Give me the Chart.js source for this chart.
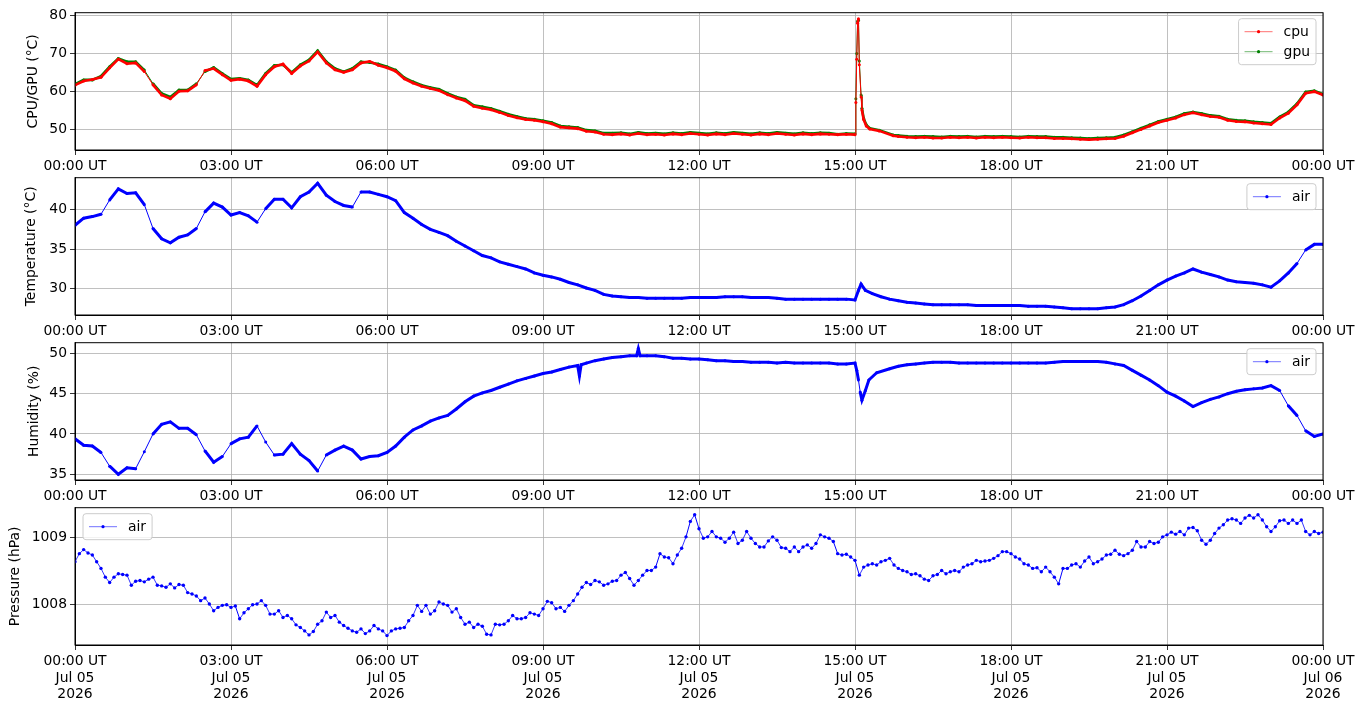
<!DOCTYPE html>
<html>
  <head>
    <title>Sensors</title>
    <script src="https://cdn.jsdelivr.net/npm/chart.js"></script>
    <style>
      body { margin: 0; background: #fff; width: 1364px; height: 710px; position: relative; overflow: hidden; }
      canvas { position: absolute; left: 0; }
    </style>
  </head>
  <body>
    <canvas id="cpuChart" width="1364" height="180" style="top:0px"></canvas>
    <canvas id="tempChart" width="1364" height="180" style="top:165px"></canvas>
    <canvas id="humChart" width="1364" height="180" style="top:330px"></canvas>
    <canvas id="presChart" width="1364" height="215" style="top:495px"></canvas>

    <script>
      // x axis: minutes since 00:00 UT, Jul 05 2026
      var xTickMinutes = [0, 180, 360, 540, 720, 900, 1080, 1260, 1440];
      var xTickLabels = ["00:00 UT", "03:00 UT", "06:00 UT", "09:00 UT", "12:00 UT", "15:00 UT", "18:00 UT", "21:00 UT", "00:00 UT"];
      var xDateLabels = ["Jul 05", "Jul 05", "Jul 05", "Jul 05", "Jul 05", "Jul 05", "Jul 05", "Jul 05", "Jul 06"];
      var xYearLabels = ["2026", "2026", "2026", "2026", "2026", "2026", "2026", "2026", "2026"];

      var cpuTicks = [50, 60, 70, 80];
      var tempTicks = [30, 35, 40];
      var humTicks = [35, 40, 45, 50];
      var presTicks = [1008, 1009];

      // CPU / GPU
      var cpuTimes = [0,10,20,30,40,50,60,70,80,90,100,110,120,130,140,150,160,170,180,190,200,210,220,230,240,250,260,270,280,290,300,310,320,330,340,350,360,370,380,390,400,410,420,430,440,450,460,470,480,490,500,510,520,530,540,550,560,570,580,590,600,610,620,630,640,650,660,670,680,690,700,710,720,730,740,750,760,770,780,790,800,810,820,830,840,850,860,870,880,890,900,
        901,902,903,904,905,907,908,910,913,917,928,944,
        950,960,970,980,990,1000,1010,1020,1030,1040,1050,1060,1070,1080,1090,1100,1110,1120,1130,1140,1150,1160,1170,1180,1190,1200,1210,1220,1230,1240,1250,1260,1270,1280,1290,1300,1310,1320,1330,1340,1350,1360,1370,1380,1390,1400,1410,1420,1430,1440];
      var cpuValues = [61.6,62.7,63.1,63.7,66.2,68.5,67.3,67.5,65.2,61.7,
        59.0,58.0,60.0,60.1,61.7,65.5,66.0,64.4,62.9,63.2,
        62.7,61.3,64.4,66.5,67.2,64.7,66.7,68.0,70.4,67.5,
        65.7,65.0,65.7,67.5,67.9,66.9,66.2,65.3,63.3,62.2,
        61.3,60.7,60.2,59.1,58.2,57.5,56.0,55.5,55.1,54.4,
        53.6,53.0,52.5,52.3,51.9,51.4,50.5,50.3,50.1,49.4,
        49.2,48.6,48.5,48.7,48.4,48.8,48.5,48.6,48.4,48.7,
        48.5,48.8,48.6,48.4,48.7,48.5,48.8,48.6,48.4,48.7,
        48.5,48.8,48.6,48.4,48.7,48.5,48.7,48.6,48.5,48.6,
        48.5,
        57.0,68.5,78.0,79.2,67.0,58.5,55.0,52.5,50.8,50.0,49.5,48.2,
        48.0,47.8,47.7,47.8,47.6,47.6,47.8,47.7,47.8,47.6,
        47.8,47.7,47.8,47.7,47.6,47.8,47.7,47.7,47.5,47.5,
        47.4,47.3,47.2,47.3,47.4,47.5,48.1,49.0,49.9,50.8,
        51.7,52.3,52.9,53.8,54.3,53.8,53.3,53.1,52.3,52.0,
        51.9,51.6,51.4,51.2,52.9,54.2,56.4,59.5,59.9,59.0];
      var gpuValues = [61.9,63.0,63.0,64.0,66.5,68.7,67.8,67.8,65.6,62.0,
        59.4,58.5,60.3,60.3,62.0,65.2,66.3,64.7,63.2,63.4,
        63.0,61.6,64.7,66.8,67.0,65.0,67.0,68.3,70.7,67.8,
        66.0,65.2,66.0,67.8,67.6,67.2,66.5,65.6,63.6,62.5,
        61.6,61.0,60.5,59.4,58.5,57.9,56.3,55.9,55.4,54.7,
        53.9,53.3,52.8,52.6,52.2,51.7,50.8,50.6,50.4,49.7,
        49.5,48.9,48.9,49.0,48.7,49.1,48.8,48.9,48.7,49.0,
        48.8,49.1,48.9,48.7,49.0,48.8,49.1,48.9,48.7,49.0,
        48.8,49.1,48.9,48.7,49.0,48.8,49.0,48.9,48.6,48.8,
        48.7,
        58.0,70.0,78.5,78.8,68.0,59.0,55.5,52.8,51.1,50.2,49.7,48.4,
        48.3,48.1,48.0,48.1,48.0,47.9,48.1,48.0,48.1,47.9,
        48.1,48.0,48.1,48.0,47.9,48.1,48.0,48.0,47.8,47.8,
        47.7,47.6,47.5,47.6,47.7,47.8,48.4,49.3,50.2,51.1,
        52.0,52.6,53.2,54.1,54.5,54.1,53.6,53.4,52.6,52.3,
        52.2,51.9,51.7,51.5,53.2,54.5,56.7,59.8,60.1,59.2];

      // air temperature
      var tempTimes = [0,10,20,30,40,50,60,70,80,90,100,110,120,130,140,150,160,170,180,190,200,210,220,230,240,250,260,270,280,290,300,310,320,330,340,350,360,370,380,390,400,410,420,430,440,450,460,470,480,490,500,510,520,530,540,550,560,570,580,590,600,610,620,630,640,650,660,670,680,690,700,710,720,730,740,750,760,770,780,790,800,810,820,830,840,850,860,870,880,890,900,
        904,907,912,
        920,930,940,950,960,970,980,990,1000,1010,1020,1030,1040,1050,1060,1070,1080,1090,1100,1110,1120,1130,1140,1150,1160,1170,1180,1190,1200,1210,1220,1230,1240,1250,1260,1270,1280,1290,1300,1310,1320,1330,1340,1350,1360,1370,1380,1390,1400,1410,1420,1430,1440];
      var tempValues = [38.0,38.9,39.1,39.4,41.2,42.6,42.0,42.1,40.6,37.6,
        36.3,35.8,36.5,36.8,37.6,39.7,40.8,40.3,39.3,39.6,
        39.2,38.4,40.1,41.3,41.3,40.2,41.6,42.2,43.3,41.8,
        41.0,40.5,40.3,42.2,42.2,41.9,41.6,41.1,39.6,38.9,
        38.1,37.5,37.1,36.7,36.0,35.4,34.8,34.2,33.9,33.4,
        33.1,32.8,32.5,32.0,31.7,31.5,31.2,30.8,30.5,30.1,
        29.8,29.3,29.1,29.0,28.9,28.9,28.8,28.8,28.8,28.8,
        28.8,28.9,28.9,28.9,28.9,29.0,29.0,29.0,28.9,28.9,
        28.9,28.8,28.7,28.7,28.7,28.7,28.7,28.7,28.7,28.7,
        28.6,
        29.8,30.6,29.8,
        29.4,29.0,28.7,28.5,28.3,28.2,28.1,28.0,28.0,28.0,
        28.0,28.0,27.9,27.9,27.9,27.9,27.9,27.9,27.8,27.8,
        27.8,27.7,27.6,27.5,27.5,27.5,27.5,27.6,27.7,28.0,
        28.5,29.1,29.8,30.5,31.1,31.6,32.0,32.5,32.1,31.8,
        31.5,31.1,30.9,30.8,30.7,30.5,30.2,31.0,32.0,33.2,
        34.9,35.6,35.6];

      // air humidity
      var humTimes = [0,10,20,30,40,50,60,70,80,90,100,110,120,130,140,150,160,170,180,190,200,210,220,230,240,250,260,270,280,290,300,310,320,330,340,350,360,370,380,390,400,410,420,430,440,450,460,470,480,490,500,510,520,530,540,550,560,570,
        580,582,584,590,600,610,620,630,640,648,650,652,
        660,670,680,690,700,710,720,730,740,750,760,770,780,790,800,810,820,830,840,850,860,870,880,890,900,
        902,904,906,908,912,916,925,940,950,
        960,970,980,990,1000,1010,1020,1030,1040,1050,1060,1070,1080,1090,1100,1110,1120,1130,1140,1150,1160,1170,1180,1190,1200,1210,1220,1230,1240,1250,1260,1270,1280,1290,1300,1310,1320,1330,1340,1350,1360,1370,1380,1390,1400,1410,1420,1430,1440];
      var humValues = [39.4,38.6,38.5,37.7,36.0,35.0,35.8,35.7,37.8,40.0,
        41.2,41.5,40.7,40.7,39.9,37.9,36.5,37.2,38.8,39.4,
        39.6,41.0,39.0,37.4,37.5,38.8,37.5,36.7,35.4,37.4,
        38.0,38.5,38.0,36.9,37.2,37.3,37.7,38.5,39.6,40.5,
        41.0,41.6,42.0,42.3,43.1,44.0,44.7,45.1,45.4,45.8,
        46.2,46.6,46.9,47.2,47.5,47.7,48.0,48.3,
        48.5,47.2,48.6,48.8,49.1,49.3,49.5,49.6,49.7,49.7,50.6,49.7,
        49.7,49.7,49.6,49.4,49.4,49.3,49.3,49.2,49.1,49.1,
        49.0,49.0,48.9,48.9,48.9,48.8,48.9,48.8,48.8,48.8,
        48.8,48.8,48.7,48.7,48.8,
        47.9,46.7,45.2,44.2,45.4,46.7,47.6,48.1,48.4,
        48.6,48.7,48.8,48.9,48.9,48.9,48.8,48.8,48.8,48.8,
        48.8,48.8,48.8,48.8,48.8,48.8,48.8,48.9,49.0,49.0,
        49.0,49.0,49.0,48.9,48.7,48.5,47.9,47.3,46.7,46.0,
        45.2,44.7,44.1,43.4,43.9,44.3,44.6,45.0,45.3,45.5,
        45.6,45.7,46.0,45.4,43.5,42.3,40.4,39.7,40.0];

      // air pressure, 5-minute samples
      var presTimes = [0,5,10,15,20,25,30,35,40,45,50,55,
        60,65,70,75,80,85,90,95,100,105,110,115,
        120,125,130,135,140,145,150,155,160,165,170,175,
        180,185,190,195,200,205,210,215,220,225,230,235,
        240,245,250,255,260,265,270,275,280,285,290,295,
        300,305,310,315,320,325,330,335,340,345,350,355,
        360,365,370,375,380,385,390,395,400,405,410,415,
        420,425,430,435,440,445,450,455,460,465,470,475,
        480,485,490,495,500,505,510,515,520,525,530,535,
        540,545,550,555,560,565,570,575,580,585,590,595,
        600,605,610,615,620,625,630,635,640,645,650,655,
        660,665,670,675,680,685,690,695,700,705,710,715,
        720,725,730,735,740,745,750,755,760,765,770,775,
        780,785,790,795,800,805,810,815,820,825,830,835,
        840,845,850,855,860,865,870,875,880,885,890,895,
        900,905,910,915,920,925,930,935,940,945,950,955,
        960,965,970,975,980,985,990,995,1000,1005,1010,1015,
        1020,1025,1030,1035,1040,1045,1050,1055,1060,1065,1070,1075,
        1080,1085,1090,1095,1100,1105,1110,1115,1120,1125,1130,1135,
        1140,1145,1150,1155,1160,1165,1170,1175,1180,1185,1190,1195,
        1200,1205,1210,1215,1220,1225,1230,1235,1240,1245,1250,1255,
        1260,1265,1270,1275,1280,1285,1290,1295,1300,1305,1310,1315,
        1320,1325,1330,1335,1340,1345,1350,1355,1360,1365,1370,1375,
        1380,1385,1390,1395,1400,1405,1410,1415,1420,1425,1430,1435,
        1440];
      var presValues = [1008.64,1008.76,1008.82,1008.77,1008.74,1008.64,1008.54,1008.41,1008.33,1008.41,1008.46,1008.45,
        1008.44,1008.29,1008.35,1008.36,1008.34,1008.38,1008.41,1008.29,1008.28,1008.26,1008.31,1008.25,
        1008.30,1008.29,1008.18,1008.16,1008.13,1008.06,1008.10,1008.01,1007.91,1007.96,1007.99,1008.00,
        1007.96,1007.98,1007.79,1007.88,1007.94,1008.00,1008.01,1008.06,1007.99,1007.86,1007.86,1007.91,
        1007.81,1007.84,1007.79,1007.70,1007.66,1007.61,1007.55,1007.60,1007.71,1007.76,1007.89,1007.81,
        1007.84,1007.74,1007.69,1007.65,1007.61,1007.59,1007.64,1007.57,1007.61,1007.69,1007.64,1007.61,
        1007.54,1007.61,1007.64,1007.65,1007.66,1007.76,1007.84,1007.99,1007.90,1007.99,1007.86,1007.91,
        1008.04,1008.01,1007.99,1007.89,1007.94,1007.81,1007.71,1007.74,1007.66,1007.71,1007.68,1007.56,
        1007.55,1007.71,1007.70,1007.71,1007.76,1007.84,1007.79,1007.79,1007.81,1007.88,1007.86,1007.84,
        1007.94,1008.05,1008.03,1007.94,1007.96,1007.90,1007.99,1008.06,1008.16,1008.26,1008.33,1008.30,
        1008.36,1008.34,1008.29,1008.31,1008.35,1008.36,1008.44,1008.48,1008.39,1008.29,1008.36,1008.44,
        1008.51,1008.51,1008.56,1008.76,1008.71,1008.70,1008.61,1008.74,1008.84,1009.01,1009.24,1009.34,
        1009.13,1008.99,1009.01,1009.09,1009.01,1008.99,1008.93,1008.99,1009.08,1008.91,1008.96,1009.09,
        1008.99,1008.91,1008.86,1008.86,1008.95,1009.01,1008.96,1008.85,1008.84,1008.79,1008.86,1008.79,
        1008.86,1008.89,1008.84,1008.91,1009.04,1009.01,1008.99,1008.94,1008.76,1008.74,1008.75,1008.71,
        1008.66,1008.44,1008.56,1008.59,1008.61,1008.59,1008.64,1008.66,1008.69,1008.59,1008.54,1008.51,
        1008.49,1008.45,1008.46,1008.43,1008.38,1008.36,1008.43,1008.45,1008.51,1008.46,1008.49,1008.51,
        1008.49,1008.56,1008.59,1008.61,1008.66,1008.64,1008.65,1008.66,1008.69,1008.73,1008.79,1008.79,
        1008.76,1008.71,1008.68,1008.61,1008.59,1008.54,1008.55,1008.49,1008.56,1008.49,1008.41,1008.31,
        1008.54,1008.54,1008.59,1008.61,1008.56,1008.65,1008.71,1008.61,1008.64,1008.68,1008.74,1008.75,
        1008.81,1008.75,1008.73,1008.76,1008.81,1008.94,1008.86,1008.86,1008.94,1008.91,1008.93,1009.01,
        1009.04,1009.08,1009.05,1009.09,1009.04,1009.14,1009.15,1009.10,1008.96,1008.90,1008.96,1009.06,
        1009.14,1009.19,1009.26,1009.28,1009.26,1009.21,1009.29,1009.33,1009.29,1009.34,1009.26,1009.16,
        1009.09,1009.16,1009.25,1009.26,1009.21,1009.26,1009.21,1009.26,1009.09,1009.04,1009.09,1009.06,
        1009.08];

      Chart.defaults.font.family = "'DejaVu Sans', sans-serif";
      Chart.defaults.font.size = 13.9;
      Chart.defaults.color = "#000";

      function toPoints(times, values) {
        return times.map(function (t, i) { return { x: t, y: values[i] }; });
      }

      // axes frame + matplotlib-like legend box
      const framePlugin = {
        id: "frame",
        afterDraw(chart, args, opts) {
          const ctx = chart.ctx;
          const a = chart.chartArea;
          ctx.save();
          ctx.strokeStyle = "#000";
          ctx.lineWidth = 1;
          ctx.strokeRect(a.left, a.top, a.right - a.left, a.bottom - a.top);

          const items = opts.items || [];
          ctx.font = "13.9px 'DejaVu Sans', sans-serif";
          const textW = Math.max.apply(null, items.map(function (it) { return ctx.measureText(it.label).width; }));
          const w = 6 + 28 + 11 + textW + 6;
          const h = items.length * 20 + 6;
          const x = opts.side === "left" ? a.left + 8 : a.right - 7 - w;
          const y = a.top + 6;
          ctx.beginPath();
          ctx.roundRect(x, y, w, h, 3);
          ctx.fillStyle = "rgba(255,255,255,0.8)";
          ctx.fill();
          ctx.strokeStyle = "#cccccc";
          ctx.stroke();
          items.forEach(function (it, i) {
            const cy = y + 13 + i * 20;
            ctx.globalAlpha = 0.7;
            ctx.strokeStyle = it.color;
            ctx.lineWidth = 0.8;
            ctx.beginPath();
            ctx.moveTo(x + 6, cy);
            ctx.lineTo(x + 34, cy);
            ctx.stroke();
            ctx.globalAlpha = 1;
            ctx.fillStyle = it.color;
            ctx.beginPath();
            ctx.arc(x + 20, cy, 1.6, 0, Math.PI * 2);
            ctx.fill();
            ctx.fillStyle = "#000";
            ctx.textBaseline = "middle";
            ctx.textAlign = "left";
            ctx.fillText(it.label, x + 45, cy + 1);
          });
          ctx.restore();
        },
      };

      function makePanel(id, cfg) {
        const canvas = document.getElementById(id);
        const xAxisHeight = canvas.height - 12.7 - 137.3;
        new Chart(canvas, {
          type: "line",
          data: { datasets: cfg.datasets },
          plugins: [framePlugin],
          options: {
            responsive: false,
            animation: false,
            layout: { padding: { top: 12.7, left: 0, right: 41, bottom: 0 } },
            plugins: {
              legend: { display: false },
              tooltip: { enabled: false },
              frame: { items: cfg.legend, side: cfg.legendSide },
            },
            scales: {
              x: {
                type: "linear",
                min: 0,
                max: 1440,
                afterBuildTicks: function (s) { s.ticks = xTickMinutes.map(function (v) { return { value: v }; }); },
                afterFit: function (s) { s.height = xAxisHeight; },
                ticks: {
                  autoSkip: false,
                  maxRotation: 0,
                  padding: 3,
                  font: { lineHeight: 1.2 },
                  callback: function (v, i) {
                    return cfg.dateTicks ? [xTickLabels[i], xDateLabels[i], xYearLabels[i]] : xTickLabels[i];
                  },
                },
                grid: { color: "#b0b0b0", lineWidth: 0.8, tickColor: "#000", tickLength: 5 },
                border: { color: "#000", width: 1 },
              },
              y: {
                type: "linear",
                min: cfg.yMin,
                max: cfg.yMax,
                afterBuildTicks: function (s) { s.ticks = cfg.yTicks.map(function (v) { return { value: v }; }); },
                afterFit: function (s) { s.width = 75; },
                ticks: { padding: 3, callback: function (v) { return String(v); } },
                grid: { color: "#b0b0b0", lineWidth: 0.8, tickColor: "#000", tickLength: 5 },
                border: { color: "#000", width: 1 },
                title: { display: true, text: cfg.yTitle, padding: { top: cfg.titlePad, bottom: 0 } },
              },
            },
          },
        });
      }

      function series(times, values, color, width, radius) {
        return {
          data: toPoints(times, values),
          borderColor: color,
          backgroundColor: color,
          borderWidth: width,
          pointRadius: radius,
          pointBorderWidth: 0,
          pointBackgroundColor: color,
          tension: 0,
          segment: {
            borderWidth: function (c) { return Math.abs(c.p1.y - c.p0.y) > 12 ? 1 : undefined; },
          },
        };
      }

      makePanel("cpuChart", {
        datasets: [
          series(cpuTimes, cpuValues, "#ff0000", 2.6, 1.5),
          series(cpuTimes, gpuValues, "#008000", 2.6, 1.5),
        ],
        legend: [{ label: "cpu", color: "#ff0000" }, { label: "gpu", color: "#008000" }],
        legendSide: "right",
        yMin: 44.44, yMax: 80.8, yTicks: cpuTicks,
        yTitle: "CPU/GPU (°C)", titlePad: 24.7,
      });

      makePanel("tempChart", {
        datasets: [series(tempTimes, tempValues, "#0000ff", 3, 1.5)],
        legend: [{ label: "air", color: "#0000ff" }],
        legendSide: "right",
        yMin: 26.7, yMax: 44.0, yTicks: tempTicks,
        yTitle: "Temperature (°C)", titlePad: 22.7,
      });

      makePanel("humChart", {
        datasets: [series(humTimes, humValues, "#0000ff", 3, 1.5)],
        legend: [{ label: "air", color: "#0000ff" }],
        legendSide: "right",
        yMin: 34.29, yMax: 51.33, yTicks: humTicks,
        yTitle: "Humidity (%)", titlePad: 25.7,
      });

      makePanel("presChart", {
        datasets: [series(presTimes, presValues, "#0000ff", 0.8, 1.7)],
        legend: [{ label: "air", color: "#0000ff" }],
        legendSide: "left",
        dateTicks: true,
        yMin: 1007.4, yMax: 1009.444, yTicks: presTicks,
        yTitle: "Pressure (hPa)", titlePad: 7.2,
      });
    </script>
  </body>
</html>
